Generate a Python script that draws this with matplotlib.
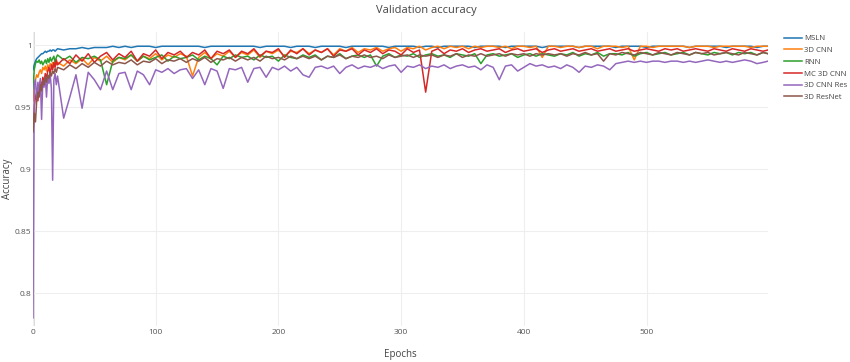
import matplotlib
matplotlib.use("Agg")
import matplotlib.pyplot as plt

plt.rcParams['font.family'] = ['Open Sans', 'DejaVu Sans']

# epochs: every epoch up to 20, then every 5 epochs, then the last one
epochs = list(range(0, 21)) + list(range(25, 600, 5)) + [599]

msln = [
    0.980, 0.984, 0.987, 0.989, 0.990, 0.991, 0.992, 0.993, 0.993, 0.994,
    0.995, 0.994, 0.995, 0.995, 0.996, 0.995, 0.996, 0.996, 0.995, 0.996, 0.997,
    0.996, 0.997, 0.997, 0.998, 0.997, 0.998, 0.998, 0.998, 0.999, 0.998,
    0.999, 0.998, 0.999, 0.999, 0.999, 0.998, 0.999, 0.999, 0.999, 0.999,
    0.999, 0.999, 0.999, 0.998, 0.999, 0.999, 0.999, 0.999, 0.999, 0.999,
    0.999, 0.999, 0.998, 0.999, 0.999, 0.999, 0.999, 0.998, 0.999, 0.999,
    0.999, 0.998, 0.999, 0.999, 0.999, 0.999, 0.998, 0.999, 0.999, 0.999,
    0.999, 0.999, 0.999, 0.998, 0.999, 0.999, 0.999, 0.999, 0.998, 0.999,
    0.999, 0.998, 0.999, 0.999, 0.999, 0.999, 0.999, 0.998, 0.999, 0.999,
    0.999, 0.999, 0.998, 0.999, 0.999, 0.999, 0.999, 0.999, 0.998, 0.999,
    0.999, 0.999, 0.999, 0.999, 0.998, 0.999, 0.999, 0.999, 0.999, 0.999,
    0.998, 0.999, 0.999, 0.999, 0.999, 0.998, 0.999, 0.999, 0.999, 0.999,
    0.999, 0.999, 0.998, 0.999, 0.999, 0.999, 0.999, 0.999, 0.998, 0.999,
    0.999, 0.999, 0.999, 0.998, 0.999,
    0.999,
]

cnn3d = [
    0.955, 0.968, 0.972, 0.976, 0.974, 0.978, 0.980, 0.977, 0.982, 0.980,
    0.983, 0.979, 0.984, 0.981, 0.985, 0.983, 0.986, 0.982, 0.987, 0.984, 0.986,
    0.983, 0.988, 0.985, 0.989, 0.984, 0.990, 0.987, 0.991, 0.986, 0.990,
    0.988, 0.992, 0.987, 0.991, 0.989, 0.993, 0.988, 0.992, 0.990, 0.993,
    0.991, 0.975, 0.990, 0.994, 0.989, 0.993, 0.991, 0.995, 0.990, 0.994,
    0.992, 0.996, 0.990, 0.995, 0.993, 0.996, 0.991, 0.995, 0.994, 0.997,
    0.993, 0.996, 0.994, 0.997, 0.992, 0.997, 0.995, 0.998, 0.994, 0.997,
    0.996, 0.998, 0.995, 0.997, 0.998, 0.995, 0.998, 0.997, 0.999, 0.996,
    0.998, 0.999, 0.997, 0.999, 0.998, 0.999, 0.997, 0.999, 0.998, 0.999,
    0.999, 0.998, 0.999, 0.997, 0.999, 0.999, 0.998, 0.999, 0.990, 0.999,
    0.999, 0.998, 0.999, 0.999, 0.998, 0.999, 0.999, 0.997, 0.999, 0.999,
    0.999, 0.998, 0.999, 0.988, 0.999, 0.999, 0.998, 0.999, 0.999, 0.999,
    0.999, 0.999, 0.998, 0.999, 0.999, 0.999, 0.998, 0.999, 0.999, 0.999,
    0.999, 0.999, 0.998, 0.999, 0.999,
    0.999,
]

rnn = [
    0.965, 0.980, 0.985, 0.987, 0.986, 0.988, 0.985, 0.987, 0.984, 0.986,
    0.988, 0.985, 0.989, 0.986, 0.990, 0.987, 0.989, 0.991, 0.986, 0.990, 0.992,
    0.988, 0.991, 0.986, 0.990, 0.989, 0.991, 0.988, 0.968, 0.987, 0.990,
    0.989, 0.992, 0.987, 0.991, 0.988, 0.990, 0.992, 0.987, 0.991, 0.989,
    0.990, 0.992, 0.988, 0.991, 0.989, 0.984, 0.991, 0.989, 0.992, 0.990,
    0.991, 0.988, 0.992, 0.990, 0.991, 0.987, 0.992, 0.990, 0.989, 0.992,
    0.990, 0.992, 0.988, 0.991, 0.990, 0.993, 0.989, 0.991, 0.992, 0.990,
    0.992, 0.983, 0.991, 0.993, 0.990, 0.992, 0.991, 0.993, 0.990, 0.992,
    0.993, 0.991, 0.992, 0.990, 0.993, 0.992, 0.991, 0.993, 0.985, 0.992,
    0.993, 0.991, 0.992, 0.993, 0.990, 0.992, 0.993, 0.991, 0.993, 0.992,
    0.991, 0.993, 0.992, 0.994, 0.991, 0.993, 0.992, 0.994, 0.991, 0.993,
    0.993, 0.992, 0.994, 0.991, 0.993, 0.994, 0.992, 0.993, 0.994, 0.992,
    0.993, 0.994, 0.992, 0.994, 0.993, 0.992, 0.994, 0.993, 0.994, 0.992,
    0.994, 0.993, 0.994, 0.992, 0.994,
    0.993,
]

mc_cnn3d = [
    0.930, 0.950, 0.958, 0.962, 0.955, 0.967, 0.971, 0.965, 0.974, 0.970,
    0.977, 0.973, 0.979, 0.982, 0.976, 0.984, 0.980, 0.986, 0.982, 0.988, 0.984,
    0.989, 0.985, 0.992, 0.987, 0.993, 0.986, 0.991, 0.994, 0.988, 0.993,
    0.990, 0.995, 0.987, 0.993, 0.991, 0.996, 0.989, 0.994, 0.992, 0.995,
    0.990, 0.994, 0.992, 0.996, 0.989, 0.995, 0.993, 0.996, 0.990, 0.995,
    0.993, 0.997, 0.991, 0.995, 0.994, 0.997, 0.990, 0.996, 0.993, 0.997,
    0.992, 0.996, 0.994, 0.997, 0.991, 0.996, 0.995, 0.997, 0.992, 0.996,
    0.994, 0.997, 0.993, 0.996, 0.995, 0.992, 0.997, 0.994, 0.996, 0.962,
    0.995, 0.997, 0.993, 0.996, 0.995, 0.997, 0.994, 0.996, 0.997, 0.995,
    0.996, 0.997, 0.994, 0.996, 0.997, 0.995, 0.996, 0.997, 0.994, 0.996,
    0.997, 0.995, 0.996, 0.997, 0.995, 0.996, 0.997, 0.995, 0.996, 0.997,
    0.995, 0.996, 0.997, 0.995, 0.996, 0.997, 0.996, 0.995, 0.997, 0.996,
    0.997, 0.995, 0.996, 0.997, 0.996, 0.995, 0.997, 0.996, 0.995, 0.997,
    0.996, 0.995, 0.997, 0.996, 0.995,
    0.996,
]

cnn3d_res = [
    0.780, 0.968, 0.972, 0.955, 0.970, 0.962, 0.973, 0.940, 0.971, 0.966,
    0.974, 0.958, 0.975, 0.969, 0.976, 0.965, 0.891, 0.972, 0.977, 0.968, 0.975,
    0.941, 0.958, 0.976, 0.949, 0.978, 0.972, 0.964, 0.979, 0.964, 0.977,
    0.978, 0.964, 0.979, 0.976, 0.968, 0.980, 0.978, 0.981, 0.977, 0.980,
    0.981, 0.973, 0.980, 0.968, 0.981, 0.979, 0.965, 0.981, 0.980, 0.982,
    0.970, 0.981, 0.982, 0.974, 0.982, 0.980, 0.983, 0.979, 0.982, 0.976,
    0.974, 0.982, 0.983, 0.981, 0.983, 0.977, 0.982, 0.984, 0.981, 0.983,
    0.982, 0.984, 0.981, 0.983, 0.984, 0.978, 0.983, 0.982, 0.984, 0.981,
    0.983, 0.982, 0.984, 0.981, 0.983, 0.984, 0.982, 0.983, 0.980, 0.984,
    0.982, 0.972, 0.983, 0.984, 0.979, 0.982, 0.985, 0.983, 0.984, 0.982,
    0.983, 0.981, 0.984, 0.982, 0.978, 0.983, 0.982, 0.984, 0.983, 0.980,
    0.985, 0.986, 0.987, 0.986, 0.987, 0.986, 0.987, 0.987, 0.986, 0.987,
    0.987, 0.986, 0.987, 0.986, 0.987, 0.988, 0.987, 0.986, 0.987, 0.986,
    0.987, 0.988, 0.987, 0.985, 0.986,
    0.987,
]

resnet3d = [
    0.930, 0.945, 0.938, 0.955, 0.962, 0.958, 0.968, 0.963, 0.971, 0.968,
    0.974, 0.970, 0.976, 0.973, 0.978, 0.975, 0.979, 0.977, 0.981, 0.978, 0.982,
    0.980, 0.984, 0.981, 0.985, 0.982, 0.986, 0.983, 0.987, 0.984, 0.986,
    0.985, 0.988, 0.984, 0.987, 0.986, 0.989, 0.985, 0.988, 0.987, 0.989,
    0.986, 0.989, 0.987, 0.990, 0.986, 0.989, 0.988, 0.990, 0.987, 0.990,
    0.988, 0.990, 0.987, 0.991, 0.989, 0.990, 0.988, 0.991, 0.989, 0.991,
    0.989, 0.991, 0.988, 0.991, 0.990, 0.992, 0.989, 0.991, 0.990, 0.992,
    0.990, 0.991, 0.989, 0.992, 0.990, 0.991, 0.992, 0.990, 0.992, 0.991,
    0.992, 0.990, 0.992, 0.991, 0.993, 0.990, 0.992, 0.991, 0.993, 0.991,
    0.992, 0.993, 0.991, 0.993, 0.992, 0.993, 0.991, 0.993, 0.992, 0.993,
    0.992, 0.993, 0.991, 0.993, 0.992, 0.994, 0.992, 0.993, 0.987, 0.993,
    0.992, 0.994, 0.993, 0.992, 0.994, 0.993, 0.992, 0.994, 0.993, 0.992,
    0.994, 0.993, 0.992, 0.994, 0.993, 0.994, 0.992, 0.993, 0.994, 0.993,
    0.992, 0.994, 0.993, 0.992, 0.994,
    0.993,
]

series = [
    ("MSLN", msln, "#1f77b4"),
    ("3D CNN", cnn3d, "#ff7f0e"),
    ("RNN", rnn, "#2ca02c"),
    ("MC 3D CNN", mc_cnn3d, "#d62728"),
    ("3D CNN Res", cnn3d_res, "#9467bd"),
    ("3D ResNet", resnet3d, "#8c564b"),
]

fig = plt.figure(figsize=(8.5, 3.62), dpi=100)
ax = fig.add_axes([33 / 850, 1 - 326 / 362, (768 - 33) / 850, (326 - 32) / 362])

for name, vals, col in series:
    assert len(vals) == len(epochs), name
    ax.plot(epochs, vals, color=col, linewidth=1.1, label=name)

# plotly style zero line at x = 0
ax.axvline(0, color="#444444", linewidth=1, zorder=0.5)

ax.set_xlim(0, 599)
ax.set_ylim(0.7734, 1.0105)
ax.set_xticks([0, 100, 200, 300, 400, 500])
ax.set_yticks([0.8, 0.85, 0.9, 0.95, 1])
ax.set_yticklabels(["0.8", "0.85", "0.9", "0.95", "1"])
ax.grid(True, color="#eeeeee", linewidth=0.8)
ax.set_axisbelow(True)
for s in ax.spines.values():
    s.set_visible(False)
ax.tick_params(length=0, labelsize=6, colors="#555555", pad=2)
ax.tick_params(axis="y", pad=1)

fig.text(400 / 850, 1 - 354 / 362, "Epochs", ha="center", va="center",
         fontsize=7, color="#444444")
fig.text(8 / 850, 1 - 179 / 362, "Accuracy", ha="center", va="center",
         rotation=90, fontsize=7, color="#444444")
fig.text(426 / 850, 1 - 10 / 362, "Validation accuracy", ha="center", va="center",
         fontsize=8, color="#444444")

ax.legend(loc="upper left", bbox_to_anchor=(784 / 850, 1 - 35 / 362),
          bbox_transform=fig.transFigure, frameon=False, fontsize=5.6,
          handlelength=2.3, handletextpad=0.3, labelspacing=0.55,
          borderpad=0, borderaxespad=0, labelcolor="#444444")

plt.savefig("out.png", dpi=100)
plt.close()
